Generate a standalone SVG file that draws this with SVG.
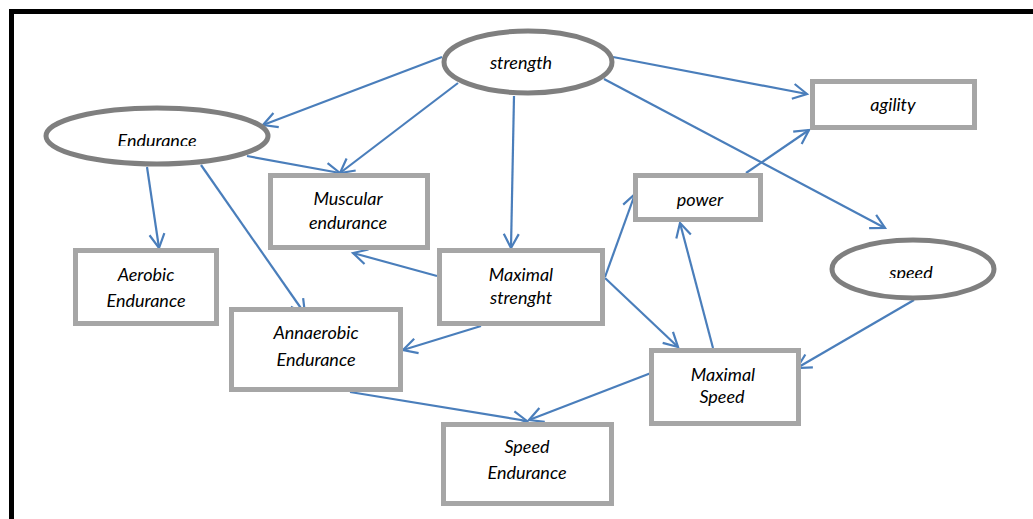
<svg xmlns="http://www.w3.org/2000/svg" width="1033" height="519" viewBox="0 0 1033 519">
<style>
.ell{fill:#fff;stroke:#7f7f7f;stroke-width:5}
.box{fill:#fff;stroke:#a6a6a6;stroke-width:5}
.t{font-family:Lato,"Liberation Sans",sans-serif;font-style:italic;font-size:18px;fill:#000;text-anchor:middle}
.c{fill:none;stroke:#4a7ebb;stroke-width:2.2;marker-end:url(#ah)}
</style>
<defs>
<marker id="ah" markerUnits="userSpaceOnUse" markerWidth="30" markerHeight="30" refX="0" refY="0" viewBox="-15 -15 30 30" orient="auto" overflow="visible">
<path d="M-14,-7.5 L0,0 L-14,7.5" fill="none" stroke="#4a7ebb" stroke-width="2.2"/>
</marker>
<clipPath id="clipEnd"><rect x="0" y="0" width="400" height="146"/></clipPath>
<clipPath id="clipSpd"><rect x="800" y="200" width="233" height="78"/></clipPath>
</defs>
<rect x="0" y="0" width="1033" height="519" fill="#fff"/>
<rect x="11.5" y="11.5" width="1040" height="530" fill="none" stroke="#000" stroke-width="5"/>
<g id="connectors">
<line class="c" x1="442" y1="57" x2="263" y2="125"/>
<line class="c" x1="458" y1="83" x2="340" y2="173"/>
<line class="c" x1="247" y1="156" x2="340" y2="173"/>
<line class="c" x1="514" y1="96" x2="511" y2="248"/>
<line class="c" x1="147" y1="167" x2="159" y2="248"/>
<line class="c" x1="201" y1="165" x2="305" y2="314"/>
<line class="c" x1="437" y1="276" x2="353" y2="253"/>
<line class="c" x1="481" y1="326" x2="403" y2="350"/>
<line class="c" x1="605" y1="277" x2="635" y2="194"/>
<line class="c" x1="605" y1="278" x2="678" y2="347"/>
<line class="c" x1="713" y1="348" x2="680" y2="223"/>
<line class="c" x1="746" y1="173" x2="809" y2="130"/>
<line class="c" x1="613" y1="57" x2="807" y2="94"/>
<line class="c" x1="604" y1="79" x2="885" y2="228"/>
<line class="c" x1="914" y1="300" x2="797" y2="368"/>
<line class="c" x1="651" y1="373" x2="529" y2="420"/>
<line class="c" x1="350" y1="392" x2="527" y2="421"/>
</g>
<g id="strength">
<ellipse class="ell" cx="528" cy="62" rx="84" ry="31"/>
<text class="t" x="521" y="69">strength</text>
</g>
<g id="endurance">
<ellipse class="ell" cx="157" cy="136" rx="111" ry="28"/>
<text class="t" x="157" y="147" clip-path="url(#clipEnd)">Endurance</text>
</g>
<g id="speed">
<ellipse class="ell" cx="913" cy="269" rx="81" ry="29"/>
<text class="t" x="911" y="279" clip-path="url(#clipSpd)">speed</text>
</g>
<g id="agility">
<rect class="box" x="812.5" y="81.5" width="162" height="46"/>
<text class="t" x="893" y="111">agility</text>
</g>
<g id="power">
<rect class="box" x="635.5" y="175.5" width="125" height="44"/>
<text class="t" x="700" y="206">power</text>
</g>
<g id="muscular-endurance">
<rect class="box" x="270.5" y="175.5" width="157" height="72"/>
<text class="t" x="348" y="205">Muscular</text>
<text class="t" x="348" y="229">endurance</text>
</g>
<g id="aerobic-endurance">
<rect class="box" x="75.5" y="250.5" width="141" height="73"/>
<text class="t" x="146" y="281">Aerobic</text>
<text class="t" x="146" y="307">Endurance</text>
</g>
<g id="maximal-strenght">
<rect class="box" x="439.5" y="250.5" width="163" height="73"/>
<text class="t" x="521" y="281">Maximal</text>
<text class="t" x="521" y="304">strenght</text>
</g>
<g id="annaerobic-endurance">
<rect class="box" x="231.5" y="309.5" width="169" height="80"/>
<text class="t" x="316" y="339">Annaerobic</text>
<text class="t" x="316" y="366">Endurance</text>
</g>
<g id="maximal-speed">
<rect class="box" x="651.5" y="350.5" width="147" height="73"/>
<text class="t" x="723" y="381">Maximal</text>
<text class="t" x="722" y="403">Speed</text>
</g>
<g id="speed-endurance">
<rect class="box" x="443.5" y="424.5" width="168" height="79"/>
<text class="t" x="527" y="453">Speed</text>
<text class="t" x="527" y="479">Endurance</text>
</g>
</svg>
